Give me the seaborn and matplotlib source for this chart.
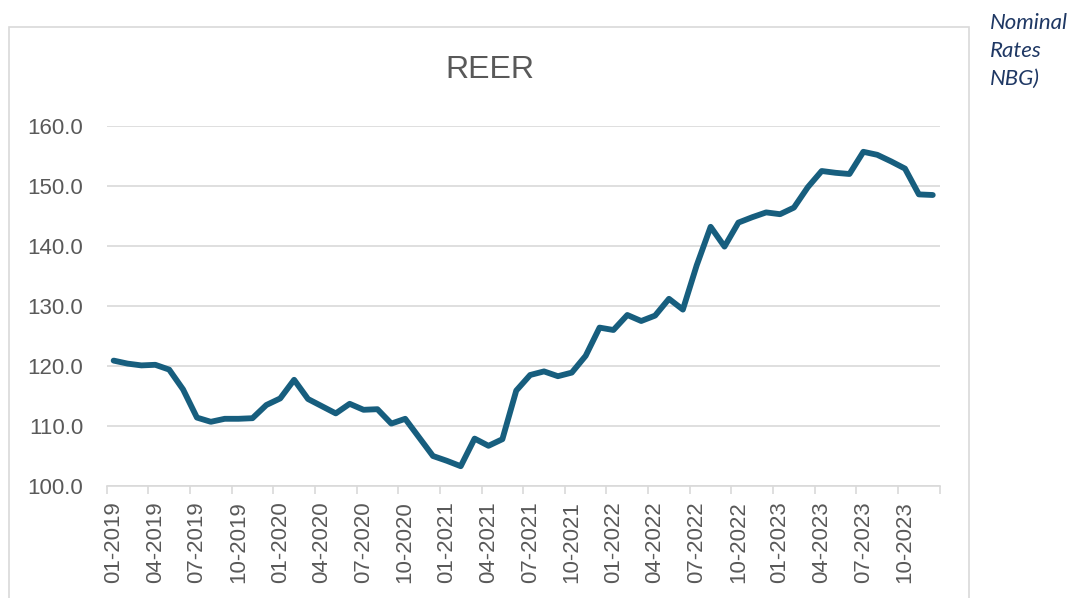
import pandas as pd
import matplotlib.pyplot as plt
import seaborn as sns
from matplotlib.patches import Rectangle

# monthly REER index, 01-2019 .. 12-2023
reer_2019 = [120.9, 120.4, 120.1, 120.2, 119.4, 116.1, 111.4, 110.7, 111.2, 111.2, 111.3, 113.5]
reer_2020 = [114.6, 117.7, 114.5, 113.3, 112.1, 113.7, 112.7, 112.8, 110.4, 111.2, 108.1, 105.0]
reer_2021 = [104.2, 103.3, 107.9, 106.7, 107.8, 115.9, 118.5, 119.1, 118.3, 118.9, 121.7, 126.4]
reer_2022 = [126.0, 128.5, 127.5, 128.4, 131.2, 129.4, 136.8, 143.2, 139.9, 143.9, 144.8, 145.6]
reer_2023 = [145.3, 146.4, 149.8, 152.5, 152.2, 152.0, 155.7, 155.2, 154.1, 152.9, 148.6, 148.5]
years = [2019, 2020, 2021, 2022, 2023]

reer = reer_2019 + reer_2020 + reer_2021 + reer_2022 + reer_2023
months = [f"{m:02d}-{y}" for y in years for m in range(1, 13)]
df = pd.DataFrame({"idx": range(len(reer)), "month": months, "reer": reer})

sns.set_theme(style="white")
plt.rcParams["font.family"] = ["Liberation Sans", "DejaVu Sans"]

grey_txt = "#595959"
grid_c = "#d9d9d9"

fig = plt.figure(figsize=(10.78, 5.98), dpi=100)
ax = fig.add_axes([106.7 / 1078, 1 - 486 / 598, 833 / 1078, 360 / 598])

sns.lineplot(data=df, x="idx", y="reer", ax=ax, color="#175e7e", linewidth=4.2,
             solid_capstyle="round", solid_joinstyle="round")

ax.set_xlim(-0.5, len(reer) - 0.5)
ax.set_ylim(100, 160)
ax.set_yticks(range(100, 161, 10))
ax.set_yticklabels([f"{v:.1f}" for v in range(100, 161, 10)])
ax.yaxis.grid(True, color=grid_c, linewidth=1.2)
ax.set_axisbelow(True)

ax.set_xticks(df["idx"][::3])
ax.set_xticklabels(df["month"][::3], rotation=90)
ax.set_xticks([i - 0.5 for i in range(0, len(reer) + 1, 3)], minor=True)
ax.tick_params(axis="x", which="major", length=0, pad=11, labelsize=16, labelcolor=grey_txt)
ax.tick_params(axis="x", which="minor", bottom=True, length=6, width=1.2, color=grid_c)
ax.tick_params(axis="y", length=0, pad=17, labelsize=16, labelcolor=grey_txt)

for s in ["top", "right", "left"]:
    ax.spines[s].set_visible(False)
ax.spines["bottom"].set_color(grid_c)
ax.spines["bottom"].set_linewidth(1.2)
ax.set_xlabel("")
ax.set_ylabel("")

fig.text(490 / 1078, 1 - 70 / 598, "REER", ha="center", va="center", fontsize=23, color=grey_txt)

# chart frame
fig.patches.append(Rectangle((8.5 / 1078, -0.05), (969 - 8.5) / 1078, 1.05 - 27 / 598,
                             transform=fig.transFigure, fill=False, edgecolor=grid_c, linewidth=1.2))

fig.text(990 / 1078, 1 - 13 / 598, "Nominal\nRates\nNBG)", ha="left", va="top", fontsize=16,
         style="italic", color="#1f3864", linespacing=1.5, family=["Lato", "DejaVu Sans"])

fig.savefig("out.png", dpi=100)
